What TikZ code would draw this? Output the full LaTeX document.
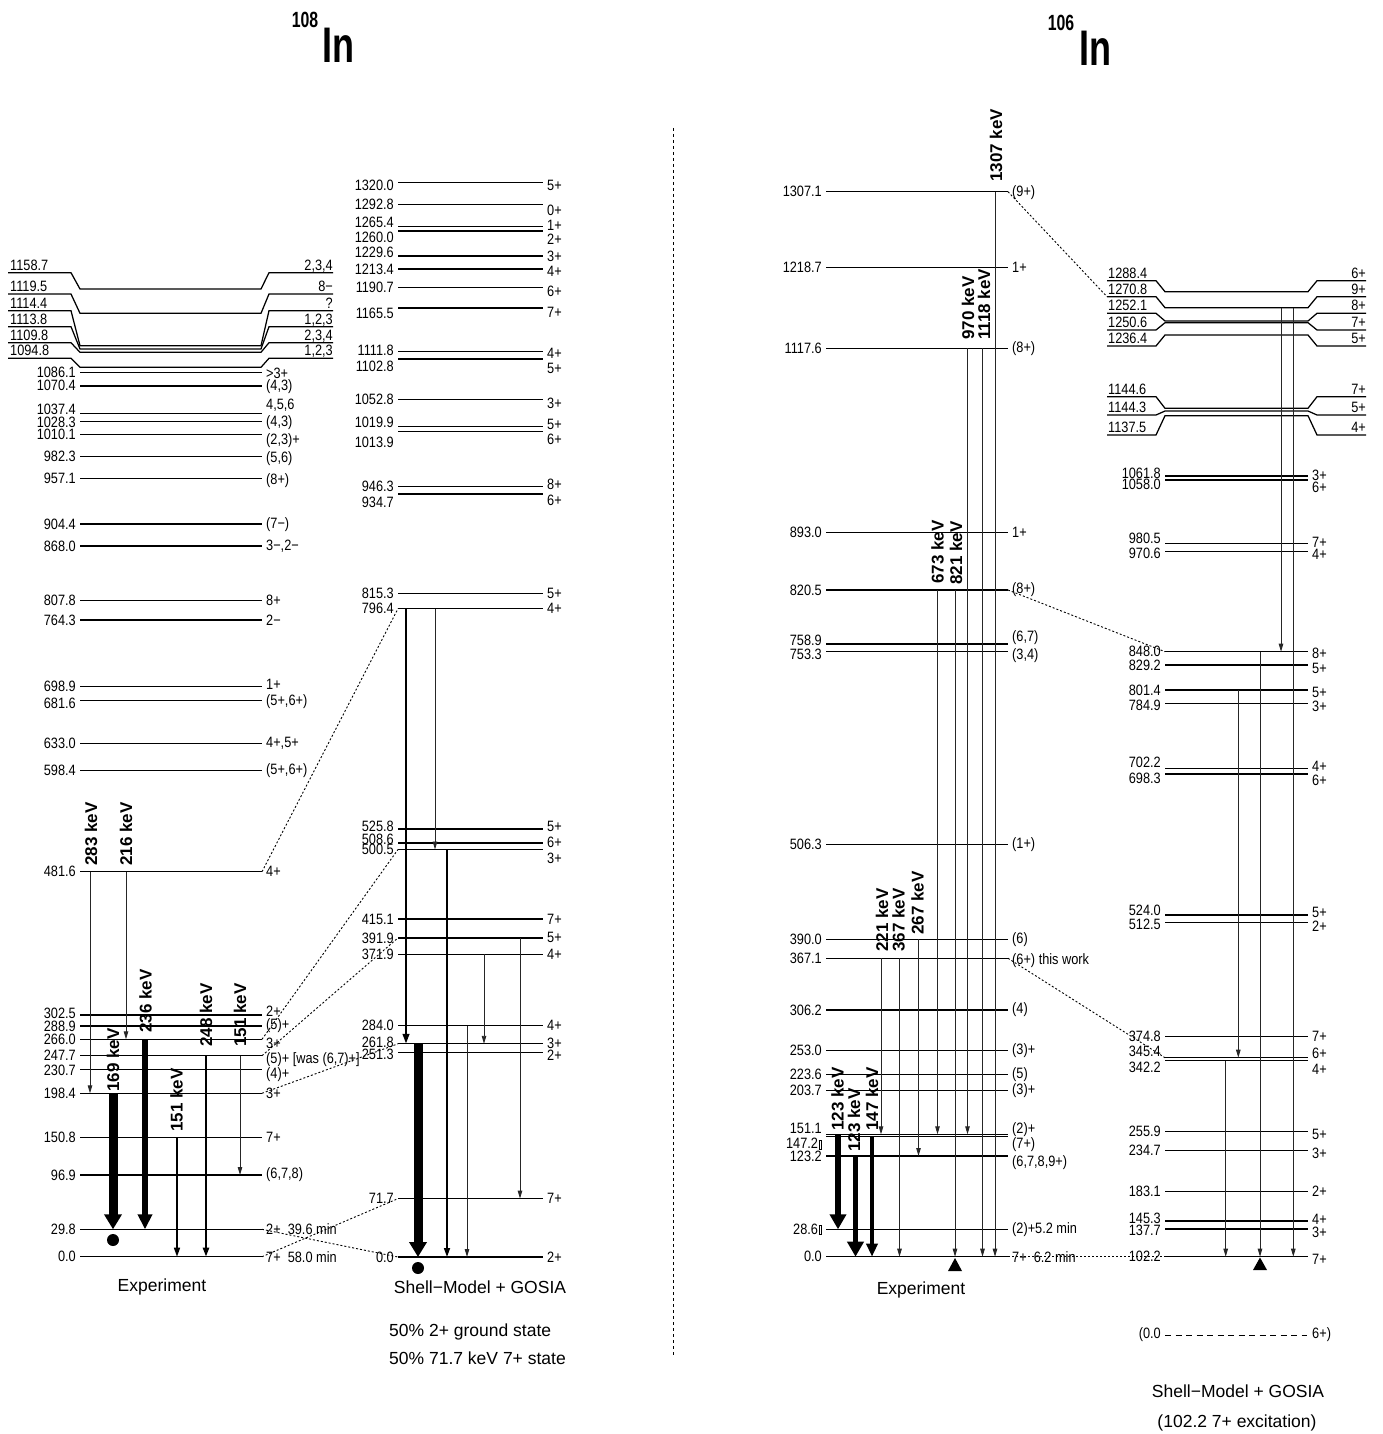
\documentclass[tikz,border=0pt]{standalone}
\usepackage{fontspec}
\setmainfont{Liberation Sans}
\newfontfamily\labfont{Liberation Sans}[FakeStretch=0.85]
\newfontfamily\titlefont{Liberation Sans}[FakeStretch=0.72]
\usetikzlibrary{arrows.meta}
\newcommand\lfnt{\labfont\fontsize{15}{15}\selectfont}
\newcommand\kfnt{\bfseries\fontsize{17}{17}\selectfont}
\newcommand\bfnt{\fontsize{17.5}{20}\selectfont}
\newcommand\tofu{\kern0.5pt{\fboxsep=0pt\fboxrule=0.4pt\fbox{\rule{0pt}{8.5pt}\kern2.5pt}}}
\tikzset{
 lvl/.style={line width=1.25pt},
 elab/.style={anchor=east,inner sep=0pt,font=\lfnt},
 slab/.style={anchor=west,inner sep=0pt,font=\lfnt},
 ulabL/.style={anchor=base west,inner sep=0pt,font=\lfnt},
 ulabR/.style={anchor=base east,inner sep=0pt,font=\lfnt},
 kev/.style={rotate=90,anchor=west,inner sep=0pt,font=\kfnt},
 bigtxt/.style={inner sep=0pt,font=\bfnt},
 tr/.style={line width=0.9pt,draw=black!85,-{Triangle[length=8pt,width=4.5pt]}},
 trm/.style={line width=#1,-{Triangle[length=9pt,width=6pt]}},
 fat/.style n args={3}{line width=#1,-{Triangle[length=#2,width=#3]}},
 dotc/.style={line width=0.9pt,dash pattern=on 2pt off 2pt},
 divider/.style={line width=0.9pt,dash pattern=on 3pt off 3pt},
 dashl/.style={line width=1pt,dash pattern=on 6pt off 4.5pt},
 blackdot/.style={circle,fill=black,inner sep=0pt,minimum size=12pt}
}
% level: name, x1, x2, y, left text, left dy, right text, right dy
\newcommand\mklev[8]{%
 \coordinate (#1) at (0,#4);
 \draw[lvl] (#2,#4) -- (#3,#4);
 \node[elab] at (#2-4,{#4+(#6)}) {#5};
 \node[slab] at (#3+4,{#4+(#8)}) {#7};}
% bent levels (108 experiment): name, underline y, level y, left text, right text
\newcommand\mkbentA[5]{%
 \coordinate (#1) at (0,#3);
 \draw[lvl] (8,#2) -- (71,#2) -- (80,#3) -- (261,#3) -- (269,#2) -- (333,#2);
 \node[ulabL] at (10,#2-2.5) {#4};
 \node[ulabR] at (333,#2-2.5) {#5};}
% bent levels (106 shell model)
\newcommand\mkbentB[5]{%
 \coordinate (#1) at (0,#3);
 \coordinate (#1u) at (1107,#2);
 \draw[lvl] (1107,#2) -- (1156,#2) -- (1165,#3) -- (1308,#3) -- (1317,#2) -- (1366,#2);
 \node[ulabL] at (1108,#2-2.5) {#4};
 \node[ulabR] at (1366,#2-2.5) {#5};}
\begin{document}
\begin{tikzpicture}[x=1pt,y=-1pt]
\useasboundingbox (0,0) rectangle (1383,1434);
% titles
\node[inner sep=0pt,font=\titlefont\bfseries\fontsize{22}{22}\selectfont] (t108s) at (305,20) {108};
\node[inner sep=0pt,font=\titlefont\bfseries\fontsize{50}{50}\selectfont] (t108) at (338,45) {In};
\node[inner sep=0pt,font=\titlefont\bfseries\fontsize{22}{22}\selectfont] (t106s) at (1061,23) {106};
\node[inner sep=0pt,font=\titlefont\bfseries\fontsize{50}{50}\selectfont] (t106) at (1095,48) {In};
% divider
\coordinate (divtop) at (673,128);
\coordinate (divbot) at (673,1355);
\draw[divider] (divtop) -- (divbot);

% ===== 108In experiment =====
\mkbentA{b11587}{272.7}{289}{1158.7}{2,3,4}
\mkbentA{b11195}{294}{313.3}{1119.5}{8−}
\mkbentA{b11144}{310.7}{345.7}{1114.4}{?}
\mkbentA{b11138}{326.7}{349}{1113.8}{1,2,3}
\mkbentA{b11098}{342.7}{352.3}{1109.8}{2,3,4}
\mkbentA{b10948}{358.3}{367.3}{1094.8}{1,2,3}
\mklev{a10861}{80}{262}{372.7}{1086.1}{0}{>3+}{1}
\mklev{a10704}{80}{262}{386}{1070.4}{-1}{(4,3)}{1}
\mklev{a10374}{80}{262}{413.3}{1037.4}{-3.5}{4,5,6}{-8}
\mklev{a10283}{80}{262}{421.7}{1028.3}{0.5}{(4,3)}{1}
\mklev{a10101}{80}{262}{434.3}{1010.1}{0.5}{(2,3)+}{6}
\mklev{a9823}{80}{262}{456.7}{982.3}{0}{(5,6)}{2}
\mklev{a9571}{80}{262}{478.3}{957.1}{0}{(8+)}{2}
\mklev{a9044}{80}{262}{524}{904.4}{0}{(7−)}{1}
\mklev{a8680}{80}{262}{546}{868.0}{0}{3−,2−}{0}
\mklev{a8078}{80}{262}{600.7}{807.8}{0}{8+}{0}
\mklev{a7643}{80}{262}{620}{764.3}{0}{2−}{0}
\mklev{a6989}{80}{262}{686.7}{698.9}{0}{1+}{-2}
\mklev{a6816}{80}{262}{700.7}{681.6}{3}{(5+,6+)}{1}
\mklev{a6330}{80}{262}{743.3}{633.0}{0}{4+,5+}{0}
\mklev{a5984}{80}{262}{770.7}{598.4}{0}{(5+,6+)}{0}
\mklev{a4816}{80}{262}{871.7}{481.6}{0}{4+}{0}
\mklev{a3025}{80}{262}{1015}{302.5}{-2}{2+}{-4}
\mklev{a2889}{80}{262}{1026}{288.9}{0}{(5)+}{0}
\mklev{a2660}{80}{262}{1039.3}{266.0}{0}{3+}{4}
\mklev{a2477}{80}{262}{1055.7}{247.7}{0}{(5)+ [was (6,7)+]}{4}
\mklev{a2307}{80}{262}{1069.3}{230.7}{1}{(4)+}{5}
\mklev{a1984}{80}{262}{1093.3}{198.4}{0}{3+}{0}
\mklev{a1508}{80}{262}{1137.3}{150.8}{0}{7+}{0}
\mklev{a969}{80}{262}{1175}{96.9}{0}{(6,7,8)}{0}
\mklev{a298}{80}{262}{1229.3}{29.8}{0}{2+\ \ 39.6 min}{0}
\mklev{a000}{80}{262}{1256.7}{0.0}{0}{7+\ \ 58.0 min}{0}
% transitions
\draw[tr] ([xshift=90pt]a4816) -- ([xshift=90pt]a1984);
\draw[tr] ([xshift=126pt]a4816) -- ([xshift=126pt]a2660);
\draw[fat={9pt}{15pt}{17pt}] ([xshift=113pt]a1984) -- ([xshift=113pt]a298);
\draw[fat={6pt}{15pt}{14pt}] ([xshift=145pt]a2660) -- ([xshift=145pt]a298);
\draw[trm=1.5pt] ([xshift=177pt]a1508) -- ([xshift=177pt]a000);
\draw[trm=2.2pt] ([xshift=206pt]a2477) -- ([xshift=206pt]a000);
\draw[tr] ([xshift=240pt]a2477) -- ([xshift=240pt]a969);
\node[blackdot] (dotA) at (113,1240) {};
\node[kev] (k283) at (91,866) {283 keV};
\node[kev] (k216) at (126,866) {216 keV};
\node[kev] (k169) at (113,1092) {169 keV};
\node[kev] (k236) at (145.5,1033) {236 keV};
\node[kev] (k151a) at (176.5,1132) {151 keV};
\node[kev] (k248) at (206,1047) {248 keV};
\node[kev] (k151b) at (240,1047) {151 keV};
\node[bigtxt] (exp108) at (162,1287) {Experiment};

% ===== 108In shell model =====
\mklev{c13200}{398}{543}{182.3}{1320.0}{2.7}{5+}{3.3}
\mklev{c12928}{398}{543}{204.4}{1292.8}{0}{0+}{5.7}
\mklev{c12654}{398}{543}{226.7}{1265.4}{-4}{1+}{-1.7}
\mklev{c12600}{398}{543}{231.1}{1260.0}{6.7}{2+}{8.3}
\mklev{c12296}{398}{543}{255.9}{1229.6}{-3.3}{3+}{0.7}
\mklev{c12134}{398}{543}{269.0}{1213.4}{0}{4+}{2.7}
\mklev{c11907}{398}{543}{287.5}{1190.7}{0}{6+}{4}
\mklev{c11655}{398}{543}{308.1}{1165.5}{5.7}{7+}{4}
\mklev{c11118}{398}{543}{351.8}{1111.8}{-1}{4+}{1.7}
\mklev{c11028}{398}{543}{359.1}{1102.8}{7.3}{5+}{9}
\mklev{c10528}{398}{543}{399.8}{1052.8}{0}{3+}{4}
\mklev{c10199}{398}{543}{426.6}{1019.9}{-4}{5+}{-1.7}
\mklev{c10139}{398}{543}{431.5}{1013.9}{10.7}{6+}{8}
\mklev{c9463}{398}{543}{486.5}{946.3}{0}{8+}{-2.5}
\mklev{c9347}{398}{543}{494}{934.7}{8}{6+}{6}
\mklev{c8153}{398}{543}{593.2}{815.3}{0}{5+}{0}
\mklev{c7964}{398}{543}{608.6}{796.4}{0}{4+}{0}
\mklev{c5258}{398}{543}{828.9}{525.8}{-3}{5+}{-2}
\mklev{c5086}{398}{543}{842.9}{508.6}{-4}{6+}{-1}
\mklev{c5005}{398}{543}{849.5}{500.5}{0}{3+}{9}
\mklev{c4151}{398}{543}{919.0}{415.1}{0}{7+}{0}
\mklev{c3919}{398}{543}{937.9}{391.9}{0}{5+}{0}
\mklev{c3719}{398}{543}{954.2}{371.9}{0}{4+}{0}
\mklev{c2840}{398}{543}{1025.8}{284.0}{0}{4+}{0}
\mklev{c2618}{398}{543}{1043.8}{261.8}{-1}{3+}{0}
\mklev{c2513}{398}{543}{1052.4}{251.3}{2}{2+}{3}
\mklev{c717}{398}{543}{1198.6}{71.7}{0}{7+}{0}
\mklev{c000}{398}{543}{1257}{0.0}{0}{2+}{0}
\draw[fat={2.4pt}{10pt}{6.5pt}] ([xshift=406pt]c7964) -- ([xshift=406pt]c2618);
\draw[tr] ([xshift=435pt]c7964) -- ([xshift=435pt]c5005);
\draw[fat={9pt}{15pt}{17pt}] ([xshift=418pt]c2618) -- ([xshift=418pt]c000);
\draw[trm=1.6pt] ([xshift=447pt]c5005) -- ([xshift=447pt]c000);
\draw[tr] ([xshift=467pt]c2840) -- ([xshift=467pt]c000);
\draw[tr] ([xshift=484pt]c3719) -- ([xshift=484pt]c2618);
\draw[tr] ([xshift=520pt]c3919) -- ([xshift=520pt]c717);
\node[blackdot] (dotB) at (418,1268) {};
\node[bigtxt] (sm108) at (480,1287) {Shell−Model + GOSIA};
\node[bigtxt,anchor=west] (pct1) at (389,1332) {50\% 2+ ground state};
\node[bigtxt,anchor=west] (pct2) at (389,1358) {50\% 71.7 keV 7+ state};
% correspondences
\draw[dotc] ([xshift=262pt]a4816) -- ([xshift=398pt]c7964);
\draw[dotc] ([xshift=262pt]a2660) -- ([xshift=398pt]c5005);
\draw[dotc] ([xshift=262pt]a2477) -- ([xshift=398pt]c3919);
\draw[dotc] ([xshift=262pt]a1984) -- ([xshift=398pt]c2618);
\draw[dotc] ([xshift=262pt]a298) -- ([xshift=398pt]c000);
\draw[dotc] ([xshift=262pt]a000) -- ([xshift=398pt]c717);

% ===== 106In experiment =====
\mklev{d13071}{826}{1008}{191.7}{1307.1}{0}{(9+)}{1}
\mklev{d12187}{826}{1008}{267.7}{1218.7}{0}{1+}{0}
\mklev{d11176}{826}{1008}{348.3}{1117.6}{0}{(8+)}{0}
\mklev{d8930}{826}{1008}{532.7}{893.0}{0}{1+}{0}
\mklev{d8205}{826}{1008}{590}{820.5}{0}{(8+)}{0}
\mklev{d7589}{826}{1008}{644}{758.9}{-4}{(6,7)}{-6}
\mklev{d7533}{826}{1008}{651.7}{753.3}{3}{(3,4)}{4}
\mklev{d5063}{826}{1008}{844.3}{506.3}{0}{(1+)}{0}
\mklev{d3900}{826}{1008}{939.3}{390.0}{0}{(6)}{0}
\mklev{d3671}{826}{1008}{958.3}{367.1}{0}{(6+) this work}{2}
\mklev{d3062}{826}{1008}{1010}{306.2}{0}{(4)}{0}
\mklev{d2530}{826}{1008}{1050.7}{253.0}{0}{(3)+}{0}
\mklev{d2236}{826}{1008}{1074.3}{223.6}{0}{(5)}{0}
\mklev{d2037}{826}{1008}{1090.7}{203.7}{0}{(3)+}{0}
\mklev{d1511}{826}{1008}{1134.3}{151.1}{-6}{(2)+}{-5}
\mklev{d1472}{826}{1008}{1136.7}{147.2\tofu}{7}{(7+)}{8}
\mklev{d1232}{826}{1008}{1156}{123.2}{0}{(6,7,8,9+)}{7}
\mklev{d286}{826}{1008}{1229.3}{28.6\tofu}{0}{(2)+5.2 min}{0}
\mklev{d000}{826}{1008}{1256.7}{0.0}{0}{7+\ \ 6.2 min}{0}
\draw[tr] ([xshift=995pt]d13071) -- ([xshift=995pt]d000);
\draw[tr] ([xshift=967.5pt]d11176) -- ([xshift=967.5pt]d1511);
\draw[tr] ([xshift=982.5pt]d11176) -- ([xshift=982.5pt]d000);
\draw[tr] ([xshift=937.5pt]d8205) -- ([xshift=937.5pt]d1511);
\draw[tr] ([xshift=955pt]d8205) -- ([xshift=955pt]d000);
\draw[tr] ([xshift=881pt]d3671) -- ([xshift=881pt]d1511);
\draw[tr] ([xshift=899.5pt]d3671) -- ([xshift=899.5pt]d000);
\draw[tr] ([xshift=918.5pt]d3900) -- ([xshift=918.5pt]d1232);
\draw[fat={6.5pt}{15pt}{16pt}] ([xshift=838pt]d1511) -- ([xshift=838pt]d286);
\draw[fat={5.5pt}{15pt}{16pt}] ([xshift=855.5pt]d1232) -- ([xshift=855.5pt]d000);
\draw[fat={4.5pt}{13pt}{11pt}] ([xshift=872pt]d1472) -- ([xshift=872pt]d000);
\fill (948,1271) -- (955,1258) -- (962,1271) -- cycle;
\node[kev] (k1307) at (996,182) {1307 keV};
\node[kev] (k970) at (968,340) {970 keV};
\node[kev] (k1118) at (984,340) {1118 keV};
\node[kev] (k673) at (937.5,584) {673 keV};
\node[kev] (k821) at (956,585) {821 keV};
\node[kev] (k221) at (882,952) {221 keV};
\node[kev] (k367) at (898.5,952) {367 keV};
\node[kev] (k267) at (917.5,935) {267 keV};
\node[kev] (k123a) at (837.5,1131) {123 keV};
\node[kev] (k123b) at (854,1152) {123 keV};
\node[kev] (k147) at (872,1131) {147 keV};
\node[bigtxt] (exp106) at (921,1290) {Experiment};

% ===== 106In shell model =====
\mkbentB{f12884}{280.7}{291.7}{1288.4}{6+}
\mkbentB{f12708}{296.7}{307.7}{1270.8}{9+}
\mkbentB{f12521}{313.3}{321}{1252.1}{8+}
\mkbentB{f12506}{330}{322.7}{1250.6}{7+}
\mkbentB{f12364}{346}{335}{1236.4}{5+}
\mkbentB{f11446}{396.7}{408.3}{1144.6}{7+}
\mkbentB{f11443}{415}{411}{1144.3}{5+}
\mkbentB{f11375}{435}{415.7}{1137.5}{4+}
\mklev{e10618}{1165}{1308}{476}{1061.8}{-3}{3+}{-1}
\mklev{e10580}{1165}{1308}{480}{1058.0}{4}{6+}{7}
\mklev{e9805}{1165}{1308}{543.3}{980.5}{-5}{7+}{-1}
\mklev{e9706}{1165}{1308}{551.7}{970.6}{2}{4+}{3}
\mklev{e8480}{1165}{1308}{651.7}{848.0}{0}{8+}{2}
\mklev{e8292}{1165}{1308}{665}{829.2}{0}{5+}{3}
\mklev{e8014}{1165}{1308}{690}{801.4}{0}{5+}{2}
\mklev{e7849}{1165}{1308}{703.3}{784.9}{2}{3+}{3}
\mklev{e7022}{1165}{1308}{768.3}{702.2}{-6}{4+}{-2}
\mklev{e6983}{1165}{1308}{774}{698.3}{4}{6+}{6}
\mklev{e5240}{1165}{1308}{915}{524.0}{-5}{5+}{-3}
\mklev{e5125}{1165}{1308}{922.7}{512.5}{2}{2+}{4}
\mklev{e3748}{1165}{1308}{1036.7}{374.8}{0}{7+}{0}
\mklev{e3454}{1165}{1308}{1057.7}{345.4}{-6}{6+}{-4}
\mklev{e3422}{1165}{1308}{1060.5}{342.2}{7}{4+}{9}
\mklev{e2559}{1165}{1308}{1131.7}{255.9}{0}{5+}{3}
\mklev{e2347}{1165}{1308}{1150.7}{234.7}{0}{3+}{3}
\mklev{e1831}{1165}{1308}{1191.7}{183.1}{0}{2+}{0}
\mklev{e1453}{1165}{1308}{1221}{145.3}{-3}{4+}{-2}
\mklev{e1377}{1165}{1308}{1229}{137.7}{1}{3+}{3}
\mklev{e1022}{1165}{1308}{1256.7}{102.2}{0}{7+}{3}
\draw[tr] ([xshift=1281pt]f12708) -- ([xshift=1281pt]e8480);
\draw[tr] ([xshift=1293.3pt]f12708) -- ([xshift=1293.3pt]e1022);
\draw[tr] ([xshift=1260pt]e8480) -- ([xshift=1260pt]e1022);
\draw[tr] ([xshift=1238.3pt]e8014) -- ([xshift=1238.3pt]e3454);
\draw[tr] ([xshift=1225.7pt]e3422) -- ([xshift=1225.7pt]e1022);
\fill (1253,1270) -- (1260,1257.5) -- (1267,1270) -- cycle;
% correspondences 106
\draw[dotc] ([xshift=1008pt]d13071) -- (f12708u);
\draw[dotc] ([xshift=1008pt]d8205) -- ([xshift=1165pt]e8480);
\draw[dotc] ([xshift=1008pt]d3671) -- ([xshift=1165pt]e3454);
\draw[dotc] ([xshift=1008pt]d000) -- ([xshift=1165pt]e1022);
% alternative ground state
\node[elab] (g00l) at (1161,1335) {(0.0};
\node[slab] (g00r) at (1312,1335) {6+)};
\draw[dashl] (1165,1335) coordinate (gdA) -- (1307,1335) coordinate (gdB);
\node[bigtxt] (sm106) at (1238,1391) {Shell−Model + GOSIA};
\node[bigtxt] (exc106) at (1237,1423) {(102.2 7+ excitation)};
\end{tikzpicture}
\end{document}
